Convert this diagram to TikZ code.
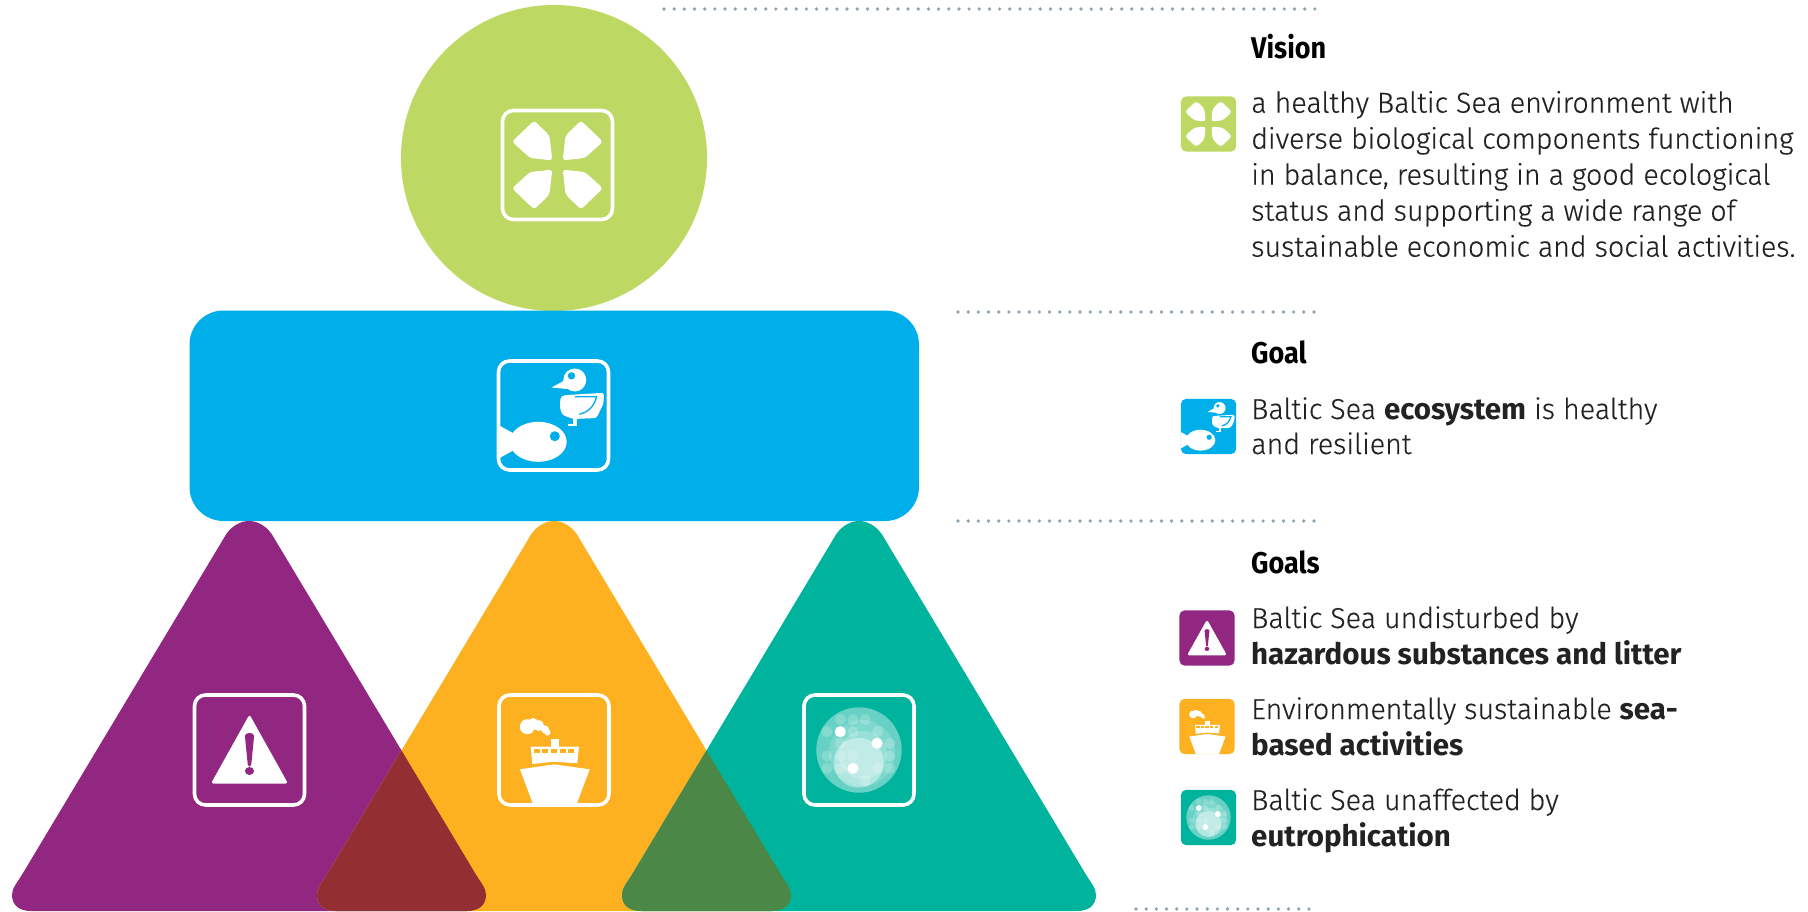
\documentclass[tikz,border=0pt]{standalone}
\usepackage{fontspec}
\setmainfont{Fira Sans Light}[LetterSpace=-0.4,FakeBold=0.3]
\newfontfamily\headfont[FakeStretch=0.9]{Fira Sans}
\newfontfamily\strongfont{Fira Sans Bold}[Scale=1.025]
\newcommand\keyword[1]{{\strongfont #1}}
\definecolor{visiongreen}{HTML}{BDD863}
\definecolor{goalblue}{HTML}{00AEEA}
\definecolor{hazpurple}{HTML}{922781}
\definecolor{seaorange}{HTML}{FDB020}
\definecolor{eutroteal}{HTML}{00B39D}
\definecolor{overlapred}{HTML}{932E32}
\definecolor{overlapgreen}{HTML}{4B8746}
\definecolor{dotgrey}{HTML}{8CA3B3}
\definecolor{bodyink}{HTML}{222222}
\tikzset{
  dotrule/.style={dotgrey,line width=3.7pt,line cap=round,dash pattern=on 0pt off 10.17pt},
  iconframe/.style={white,line width=3.6pt,rounded corners=11pt},
  headline/.style={anchor=base west,inner sep=0pt,text=black,font=\fontsize{30}{36}\headfont\bfseries},
  bodytext/.style={anchor=base west,inner sep=0pt,text=bodyink,align=left,font=\fontsize{28.8}{36}\selectfont},
  glyph/.style={fill=white,draw=none},
}
% triangle outline, apex x = 0
\def\triShape{(-22.7,534) .. controls (-10,516.7) and (10,516.7) .. (22.7,534)
  -- (226,873) .. controls (232,883) and (237,888) .. (237,895)
  .. controls (237,905) and (230,911) .. (218,911)
  -- (-218,911) .. controls (-230,911) and (-237,905) .. (-237,895)
  .. controls (-237,888) and (-232,883) .. (-226,873) -- cycle}
% icon glyphs in a box centred on the origin; #1 = background colour
\newcommand\cloverglyph{%
  \foreach \sx/\sy in {1/1,-1/1,1/-1,-1/-1}{%
    \fill[white,rounded corners=3pt,xscale=\sx,yscale=\sy]
      (-23.3,-44.5) -- (-8,-29.3) -- (-5.2,-4.6) -- (-27.3,-7) -- (-45.5,-23.3) -- cycle;
  }}
\newcommand\duckglyph[1]{%
  \fill[glyph] (-15.3,26.3) ellipse [x radius=28.5,y radius=20];
  \fill[glyph] (-54.8,9.7) -- (-38,19) -- (-38,33.7) -- (-54.8,43) -- cycle;
  \fill[#1] (1.3,20.7) circle (5);
  \fill[glyph] (21.3,-35.5) circle (11.5);
  \fill[glyph] (-2,-28) -- (11,-35) -- (14,-26.5) -- cycle;
  \fill[#1] (18,-39.7) circle (3.7);
  \fill[glyph,rounded corners=2.5pt] (10.3,-20.3) -- (50.5,-22.7) -- (50,-12) -- (43,2.5) -- (19.7,3.5) -- (9,-0.5) -- (6.3,-8) -- (7,-18) -- cycle;
  \fill[glyph] (19.7,2) rectangle (23.7,10.7);
  \fill[glyph] (14.7,8) rectangle (23.7,10.7);
  \draw[#1,line width=1.3pt] (21.3,-18.7) -- (43,-18.7) .. controls (41,-10) and (35,-3) .. (25.7,-1.3);
}
\newcommand\warnglyph[1]{%
  \fill[glyph,rounded corners=2.5pt] (0,-35.5) -- (38.5,33.5) -- (-38.5,33.5) -- cycle;
  \fill[#1] (-4.6,-14) .. controls (-4.6,-18) and (4.6,-18) .. (4.6,-14) -- (1.7,15) .. controls (1.3,17) and (-1.3,17) .. (-1.7,15) -- cycle;
  \fill[#1] (0,21) ellipse [x radius=4.5,y radius=4];
}
\newcommand\shipglyph[1]{%
  \fill[glyph] (-26.7,-23.3) circle (7.5) (-21,-27) circle (5) (-15.5,-24.5) circle (5.5) (-9,-20.5) circle (4) (-6.5,-17.5) circle (3);
  \fill[glyph] (-3.3,-10.7) rectangle (5,-1);
  \fill[glyph] (-23.3,-3.3) -- (25,-3.3) -- (23.3,13.3) -- (0,11.7) -- (-21.7,14) -- cycle;
  \foreach \wx in {-20.3,-11.7,-3,5.7,14.4}{\fill[#1] (\wx,-1) rectangle ++(6,4.3);}
  \fill[glyph] (-34,19.3) -- (0,14.3) -- (35.7,19.3) -- (22.3,55) -- (-20.7,55) -- cycle;
}
\newcommand\ballglyph{%
  \fill[white,opacity=.4] (0,0) circle (42.7);
  \fill[white,opacity=.16] (3,3) circle (33);
  \fill[white,opacity=.4] (-0.3,12.7) circle (25);
  \fill[white,opacity=.2] (4,5) circle (24);
  \foreach \bx/\by in {-18.7/-30.5,-6/-30.5,6.3/-30.5,-32/-18.3,-6/-18.3,18.7/-18.3,30.7/-6.7,30.7/6,30.7/18.3,18.7/18.3,-32/6,-32/18.3,-18.7/-6.7,-18.7/18.3,-6/6,6.3/30.7,-18.7/6}{\fill[white,opacity=.2] (\bx,\by) circle (5.6);}
  \foreach \bx/\by in {-18.7/-18.3,18/-6.7,-6/18.3}{\fill[white] (\bx,\by) circle (5.6);}
}
\newcommand\legendbox[1]{%
  \fill[#1,rounded corners=5pt] (-53,-53) rectangle (53,53);
  \clip[rounded corners=5pt] (-53,-53) rectangle (53,53);}
\begin{document}
\begin{tikzpicture}[x=1pt,y=-1pt]
\useasboundingbox (0,0) rectangle (1808,911);
% dotted rules
\coordinate (r1a) at (664,9);   \coordinate (r1b) at (1318,9);
\coordinate (r2a) at (958,312); \coordinate (r2b) at (1318,312);
\coordinate (r3a) at (958,521); \coordinate (r3b) at (1318,521);
\coordinate (r4a) at (1136,909);\coordinate (r4b) at (1318,909);
\foreach \n in {1,2,3,4}{\draw[dotrule] (r\n a) -- (r\n b);}
% vision circle and goal band
\fill[visiongreen] (554,158) circle (153);
\fill[goalblue,rounded corners=34pt] (189.5,310.5) rectangle (919,521);
% triangles
\fill[hazpurple,xshift=249pt] \triShape;
\fill[seaorange,xshift=554pt] \triShape;
\fill[eutroteal,xshift=859pt] \triShape;
\begin{scope}
  \clip[xshift=249pt] \triShape;
  \fill[overlapred,xshift=554pt] \triShape;
\end{scope}
\begin{scope}
  \clip[xshift=859pt] \triShape;
  \fill[overlapgreen,xshift=554pt] \triShape;
\end{scope}
% large icons
\begin{scope}[shift={(557.5,165)}]
  \draw[iconframe] (-55,-54.5) rectangle (55,54.5); \cloverglyph
\end{scope}
\begin{scope}[shift={(553.5,415.5)}]
  \draw[iconframe] (-55,-54.5) rectangle (55,54.5); \duckglyph{goalblue}
\end{scope}
\begin{scope}[shift={(249.5,750)}]
  \draw[iconframe] (-55,-55) rectangle (55,55); \warnglyph{hazpurple}
\end{scope}
\begin{scope}[shift={(554,750)}]
  \draw[iconframe] (-55,-55) rectangle (55,55); \shipglyph{seaorange}
\end{scope}
\begin{scope}[shift={(859,750)}]
  \draw[iconframe] (-55,-55) rectangle (55,55); \ballglyph
\end{scope}
% legend icons
\begin{scope}[shift={(1208.5,124)},scale=.52]
  \legendbox{visiongreen} \cloverglyph
\end{scope}
\begin{scope}[shift={(1208.5,426.5)},scale=.52]
  \legendbox{goalblue} \duckglyph{goalblue}
\end{scope}
\begin{scope}[shift={(1207,638)},scale=.52]
  \legendbox{hazpurple} \warnglyph{hazpurple}
\end{scope}
\begin{scope}[shift={(1207,726.5)},scale=.52]
  \legendbox{seaorange} \shipglyph{seaorange}
\end{scope}
\begin{scope}[shift={(1208.5,817.5)},scale=.52]
  \legendbox{eutroteal} \ballglyph
\end{scope}
% text
\node[headline] (hvision) at (1251,58) {Vision};
\node[bodytext] (tvision) at (1251,112.7) {a healthy Baltic Sea environment with};
\node[bodytext] (tvision2) at (1251,148.7) {diverse biological components functioning};
\node[bodytext] (tvision3) at (1251,184.7) {in balance, resulting in a good ecological};
\node[bodytext] (tvision4) at (1251,220.7) {status and supporting a wide range of};
\node[bodytext] (tvision5) at (1251,256.7) {sustainable economic and social activities.};
\node[headline] (hgoal) at (1251,363) {Goal};
\node[bodytext] (tgoal) at (1251,419) {Baltic Sea \keyword{ecosystem} is healthy};
\node[bodytext] (tgoal2) at (1251,454) {and resilient};
\node[headline] (hgoals) at (1251,573) {Goals};
\node[bodytext] (thaz) at (1251,628) {Baltic Sea undisturbed by};
\node[bodytext] (thaz2) at (1251,664) {\keyword{hazardous substances and litter}};
\node[bodytext] (tsea) at (1251,719) {Environmentally sustainable \keyword{sea-}};
\node[bodytext] (tsea2) at (1251,755) {\keyword{based activities}};
\node[bodytext] (teut) at (1251,810) {Baltic Sea unaffected by};
\node[bodytext] (teut2) at (1251,846) {\keyword{eutrophication}};
\end{tikzpicture}
\end{document}
